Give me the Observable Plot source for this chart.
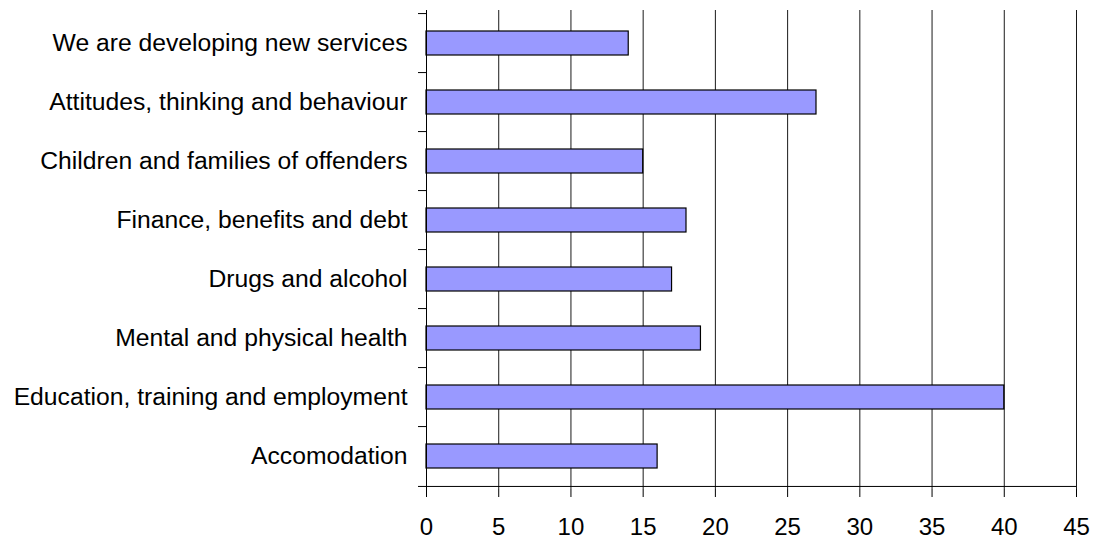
<!DOCTYPE html>
<html><head>
<meta charset="utf-8">
<script src="https://cdn.jsdelivr.net/npm/d3@7"></script>
<script src="https://cdn.jsdelivr.net/npm/@observablehq/plot@0.6"></script>
<style>body{margin:0;background:#fff}</style>
</head><body><div id="chart"></div>
<script>
const categories = [
  "We are developing new services",
  "Attitudes, thinking and behaviour",
  "Children and families of offenders",
  "Finance, benefits and debt",
  "Drugs and alcohol",
  "Mental and physical health",
  "Education, training and employment",
  "Accomodation"
];
const values = [14, 27, 15, 18, 17, 19, 40, 16];
const xTicks = [0, 5, 10, 15, 20, 25, 30, 35, 40, 45];

const data = categories.map((c, i) => ({category: c, value: values[i]}));
const W = 1099, H = 543, mt = 10, mb = 54, ml = 426, mr = 23;
const step = (H - mt - mb) / categories.length;
const pxPerUnit = (W - ml - mr) / 45;
const tickLen = 8;
const tickUnits = tickLen / pxPerUnit;

const chart = Plot.plot({
  width: W, height: H,
  marginTop: mt, marginBottom: mb, marginLeft: ml, marginRight: mr,
  style: {fontFamily: "'Liberation Sans', Arial, sans-serif", fontSize: "24px", color: "#000", background: "#fff", overflow: "visible"},
  x: {domain: [0, 45]},
  y: {domain: categories, paddingInner: 0.6, paddingOuter: 0.3},
  marks: [
    Plot.ruleX(xTicks.slice(1), {stroke: "#000", strokeWidth: 1, strokeOpacity: 0.9}),
    Plot.barX(data, {x: "value", y: "category", fill: "#9999ff", stroke: "#000", strokeWidth: 1.2}),
    Plot.ruleX([0], {stroke: "#000", strokeWidth: 1}),
    Plot.ruleY(categories, {x1: -tickUnits, x2: 0, dy: -step / 2, stroke: "#000", clip: false}),
    Plot.ruleY([categories[categories.length - 1]], {x1: -tickUnits, x2: 45, dy: step / 2, stroke: "#000"}),
    Plot.axisY({tickSize: 0, tickPadding: 19, fontSize: 24.7, label: null}),
    Plot.axisX({ticks: xTicks, tickSize: tickLen, tickPadding: 20, fontSize: 24, label: null, stroke: "#000"})
  ]
});
document.getElementById("chart").appendChild(chart);
</script>
</body></html>
